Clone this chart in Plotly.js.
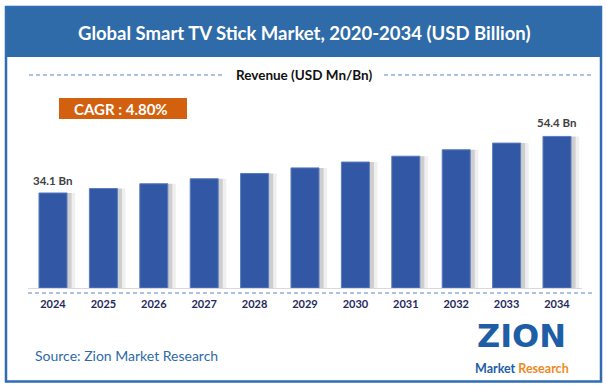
<!DOCTYPE html>
<html>
<head>
<meta charset="utf-8">
<script src="https://cdn.plot.ly/plotly-3.0.1.min.js"></script>
<style>
  html, body { margin: 0; padding: 0; background: #ffffff; }
  #chart { width: 606px; height: 386px; }
</style>
</head>
<body>
<div id="chart"></div>
<script>
// ---- data ----
const years = ["2024","2025","2026","2027","2028","2029","2030","2031","2032","2033","2034"];
const revenue = [34.1, 35.7, 37.4, 39.2, 41.1, 43.1, 45.2, 47.3, 49.6, 52.0, 54.4];
const labelFirst = "34.1 Bn";
const labelLast = "54.4 Bn";
const titleText = "Global Smart TV Stick Market, 2020-2034 (USD Billion)";
const legendText = "Revenue (USD Mn/Bn)";
const cagrText = "CAGR : 4.80%";
const sourceText = "Source: Zion Market Research";

// ---- helpers ----
const W = 606, H = 386;
const px = x => x / W;
const py = y => (H - y) / H;

const BAR_W = 0.556;
const mainBar = {
  type: "bar", x: years, y: revenue,
  width: BAR_W, offset: -BAR_W / 2,
  marker: { color: "#3257A4", line: { width: 1, color: "#5A7CC0" } },
  hoverinfo: "skip", showlegend: false
};
const shadow1 = {
  type: "bar", x: years, y: revenue,
  width: BAR_W, offset: -BAR_W / 2 + 0.09,
  marker: { color: "rgba(90,90,90,0.22)" },
  hoverinfo: "skip", showlegend: false
};
const shadow2 = {
  type: "bar", x: years, y: revenue,
  width: BAR_W, offset: -BAR_W / 2 + 0.16,
  marker: { color: "rgba(120,120,120,0.12)" },
  hoverinfo: "skip", showlegend: false
};

const font = "Lato, 'Open Sans', 'Liberation Sans', sans-serif";
const lastIdx = years.length - 1;

const annotations = [
  { text: titleText, xref: "paper", yref: "paper", x: px(304), y: py(33),
    xanchor: "center", yanchor: "middle", showarrow: false,
    font: { family: font, size: 18.5, color: "#ffffff", weight: 700 } },
  { text: legendText, xref: "paper", yref: "paper", x: px(304), y: py(75),
    xanchor: "center", yanchor: "middle", showarrow: false,
    font: { family: font, size: 13.5, color: "#111111", weight: 700 } },
  { text: cagrText, xref: "paper", yref: "paper", x: px(121), y: py(108.5),
    xanchor: "center", yanchor: "middle", showarrow: false,
    font: { family: font, size: 15, color: "#ffffff", weight: 700 } },
  { text: labelFirst, xref: "x", yref: "y", x: 0, y: revenue[0],
    xanchor: "center", yanchor: "bottom", yshift: 4, showarrow: false,
    font: { family: font, size: 11.5, color: "#404040", weight: 700 } },
  { text: labelLast, xref: "x", yref: "y", x: lastIdx, y: revenue[lastIdx],
    xanchor: "center", yanchor: "bottom", yshift: 5, showarrow: false,
    font: { family: font, size: 11.5, color: "#404040", weight: 700 } },
  { text: sourceText, xref: "paper", yref: "paper", x: px(33), y: py(355),
    xanchor: "left", yanchor: "middle", showarrow: false,
    font: { family: font, size: 14, color: "#2E6BA8" } },
  { text: "<b>ZION</b>", xref: "paper", yref: "paper", x: px(521), y: py(336),
    xanchor: "center", yanchor: "middle", showarrow: false,
    font: { family: "'DejaVu Sans', sans-serif", size: 32, color: "#1D5EA6", weight: 900 } },
  { text: "<span style='color:#1D5EA6'>Market</span> <span style='color:#EF8A1E'>Research</span>",
    xref: "paper", yref: "paper", x: px(522), y: py(368),
    xanchor: "center", yanchor: "middle", showarrow: false,
    font: { family: font, size: 12.5, weight: 700 } }
];

const shapes = [
  { type: "rect", xref: "paper", yref: "paper", x0: px(6), x1: px(601), y0: py(57), y1: py(7),
    fillcolor: "#2E6BA8", line: { width: 0 }, layer: "below" },
  { type: "rect", xref: "paper", yref: "paper", x0: px(6), x1: px(601), y0: py(381.5), y1: py(7),
    fillcolor: "rgba(0,0,0,0)", line: { width: 2.5, color: "#2E6DB4" } },
  { type: "line", xref: "paper", yref: "paper", x0: px(29), x1: px(223), y0: py(75), y1: py(75),
    line: { width: 1.2, color: "#5B84C8", dash: "4px,3px" } },
  { type: "line", xref: "paper", yref: "paper", x0: px(384), x1: px(592), y0: py(75), y1: py(75),
    line: { width: 1.2, color: "#5B84C8", dash: "4px,3px" } },
  { type: "rect", xref: "paper", yref: "paper", x0: px(59), x1: px(187), y0: py(119), y1: py(98),
    fillcolor: "#D2600E", line: { width: 0 }, layer: "below" },
  { type: "line", xref: "paper", yref: "paper", x0: px(28), x1: px(592), y0: py(293), y1: py(293),
    line: { width: 1.2, color: "#5B84C8", dash: "4px,3px" } }
];

const layout = {
  width: W, height: H,
  margin: { l: 0, r: 0, t: 0, b: 0 },
  paper_bgcolor: "#ffffff", plot_bgcolor: "rgba(0,0,0,0)",
  barmode: "overlay",
  showlegend: false,
  xaxis: {
    domain: [px(27.8), px(582.2)],
    type: "category",
    range: [-0.5, lastIdx + 0.5], autorange: false,
    showgrid: false, zeroline: false,
    showline: true, linecolor: "#D9D9D9", linewidth: 1,
    ticks: "", ticklabelstandoff: 6,
    tickfont: { family: font, size: 11, color: "#1F2A5C", weight: 700 },
    fixedrange: true
  },
  yaxis: {
    domain: [py(288), py(120.8)],
    range: [0, 60], autorange: false,
    visible: false, showgrid: false, zeroline: false,
    fixedrange: true
  },
  annotations: annotations,
  shapes: shapes
};

Plotly.newPlot("chart", [shadow2, shadow1, mainBar], layout, { displayModeBar: false, staticPlot: true });
</script>
</body>
</html>
